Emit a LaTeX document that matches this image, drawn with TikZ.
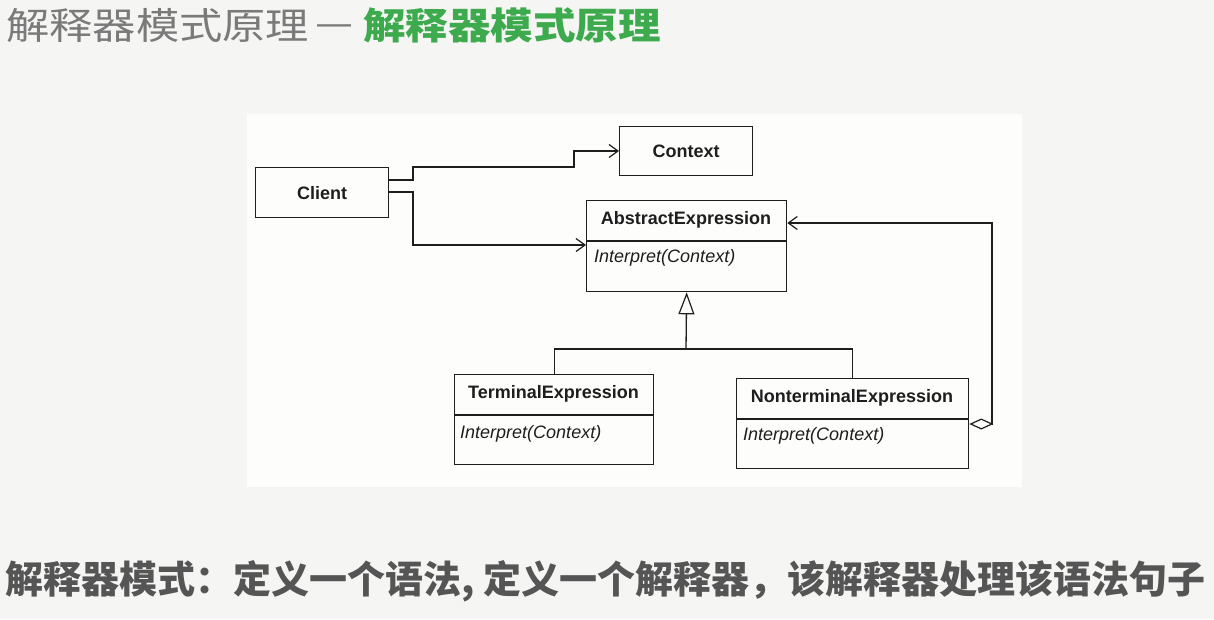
\documentclass[tikz,border=0pt]{standalone}
\usepackage{fontspec}
\usepackage{graphicx}
\setmainfont{Liberation Sans}
\newfontfamily\cjk{Noto Sans CJK SC}
\usetikzlibrary{arrows.meta}

\definecolor{pagebg}{HTML}{F5F5F3}
\definecolor{panelbg}{HTML}{FDFDFC}
\definecolor{titlegray}{HTML}{7A7A7A}
\definecolor{titlegreen}{HTML}{3DAA4E}
\definecolor{notegray}{HTML}{555555}
\definecolor{umlink}{HTML}{1E1E1E}

\begin{document}
\begin{tikzpicture}[x=1pt,y=-1pt,
  classbox/.style={draw=umlink,line width=1.3pt,inner sep=0pt,anchor=north west,
    font=\fontsize{18}{20}\selectfont\bfseries,text=umlink},
  classname/.style={font=\fontsize{18}{20}\selectfont\bfseries,text=umlink,inner sep=0pt},
  opname/.style={font=\fontsize{18}{20}\selectfont\itshape,text=umlink,inner sep=0pt,anchor=west},
  link/.style={draw=umlink,line width=1.3pt},
  uses/.style={link,-{Straight Barb[length=9pt,width=13pt,line width=1.2pt]}},
  inherits/.style={link,-{Triangle[open,length=22pt,width=16pt,line width=1.2pt]}},
  aggregates/.style={link,{Diamond[open,length=24pt,width=11pt,line width=1.2pt]}-{Straight Barb[length=9pt,width=13pt,line width=1.2pt]}}
]
% page and diagram panel
\useasboundingbox (0,0) rectangle (1214,619);
\fill[pagebg] (0,0) rectangle (1214,619);
\fill[panelbg] (247,114) rectangle (1022,487);

% heading
\node[anchor=west,inner sep=0pt,text=titlegray] (titleplain) at (6,25)
  {\scalebox{1.17}[1]{\cjk\fontsize{37}{40}\selectfont 解释器模式原理}};
\node[inner sep=0pt,text=titlegray] (titledash) at (334,30)
  {\fontsize{34}{40}\selectfont —};
\node[anchor=west,inner sep=0pt,text=titlegreen] (titlebold) at (363,25)
  {\scalebox{1.15}[1]{\cjk\bfseries\fontsize{37}{40}\selectfont 解释器模式原理}};

% classes
\node[classbox,minimum width=133pt,minimum height=49pt] (context) at (619,126) {Context};
\node[classbox,minimum width=133pt,minimum height=50pt] (client) at (255,167) {Client};

\node[classbox,minimum width=200pt,minimum height=91pt] (ae) at (586,200) {};
\draw[link] (ae.west |- 0,241) -- (ae.east |- 0,241);
\node[classname] (aename) at (686,220) {AbstractExpression};
\node[opname] (aeop) at (594,258) {Interpret(Context)};

\node[classbox,minimum width=199pt,minimum height=90pt] (term) at (454,374) {};
\draw[link] (term.west |- 0,415) -- (term.east |- 0,415);
\node[classname] (termname) at (553.5,394) {TerminalExpression};
\node[opname] (termop) at (460,434) {Interpret(Context)};

\node[classbox,minimum width=232pt,minimum height=90pt] (nonterm) at (736,378) {};
\draw[link] (nonterm.west |- 0,419) -- (nonterm.east |- 0,419);
\node[classname] (nontermname) at (852,398) {NonterminalExpression};
\node[opname] (nontermop) at (743,436) {Interpret(Context)};

% associations from the client
\draw[uses] (client.east |- 0,180) -- (413,180) -- (413,167) -- (574,167)
  -- (574,151) -- (context.west |- 0,151);
\draw[uses] (client.east |- 0,192) -- (413,192) -- (413,245) -- (ae.west |- 0,245);

% generalisation
\coordinate (junc) at (686,349);
\draw[link] (term.north) |- (junc) -| (nonterm.north);
\draw[inherits] (junc) -- (ae.south);

% aggregation back to the abstract expression
\draw[aggregates] (nonterm.east |- 0,424) -- (992,424) -- (992,223) -- (ae.east |- 0,223);

% caption
\node[anchor=west,inner sep=0pt,text=notegray] (note) at (5,581)
  {\cjk\bfseries\fontsize{38}{40}\selectfont 解释器模式：定义一个语法, 定义一个解释器，该解释器处理该语法句子};
\end{tikzpicture}
\end{document}
